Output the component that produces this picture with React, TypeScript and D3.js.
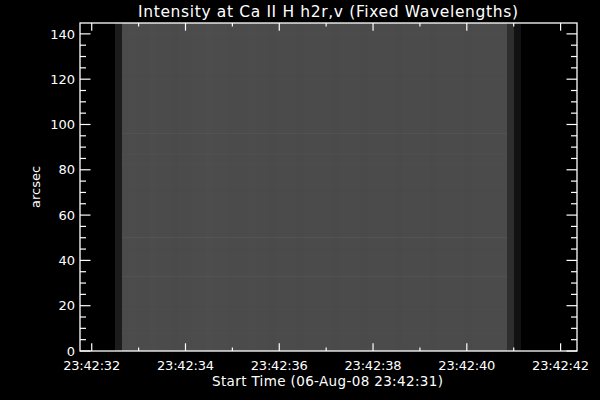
import React from "react";
import * as d3 from "d3";

// ---- data ----
const title = "Intensity at Ca II H h2r,v (Fixed Wavelengths)";
const xTitle = "Start Time (06-Aug-08 23:42:31)";
const yTitle = "arcsec";
const xTickSeconds = [1, 3, 5, 7, 9, 11];
const xTickLabels = ["23:42:32", "23:42:34", "23:42:36", "23:42:38", "23:42:40", "23:42:42"];
const yTickValues = [0, 20, 40, 60, 80, 100, 120, 140];
const xDomain = [0.75, 11.35]; // seconds after 23:42:31
const yDomain = [0, 144.8];
const colStart = 1.5;
const colStep = 0.1494;
// mean grey level per exposure column (0-255)
const colIntensity = [
  28, 75, 76, 75, 75, 76, 75, 75, 74, 75, 75, 76, 76, 77, 76, 76, 75, 75, 75, 76,
  75, 75, 74, 75, 75, 75, 74, 75, 75, 75, 75, 74, 75, 75, 75, 74, 75, 75, 75, 75,
  74, 75, 75, 75, 75, 74, 75, 75, 75, 75, 74, 75, 75, 75, 75, 75, 46, 18,
];
// slit positions (arcsec) with slightly brighter / darker rows
const rowPos = [140.5, 122, 96.2, 87, 83, 71, 50.3, 45, 33.3, 20, 8];
const rowDelta = [2, -2, 7, 3, 2, -2, 8, -2, 7, -2, 2];

export default function App() {
  const W = 600, H = 400;
  const x = d3.scaleLinear().domain(xDomain).range([80, 577]);
  const y = d3.scaleLinear().domain(yDomain).range([351, 23]);
  const grey = (v: number) => d3.rgb(v, v, v).toString();
  const font = "'DejaVu Sans', sans-serif";
  const yMinor = d3.range(0, 145, 5).filter((v) => v % 20 !== 0);
  const xMinor = d3.range(1, 12, 1).filter((s) => (s - 1) % 2 !== 0);
  const [x0, x1] = x.range();
  const [y0, y1] = y.range();
  const colX = (i: number) => Math.round(x(colStart + i * colStep));
  return (
    <svg width={W} height={H} style={{ position: "absolute", left: 0, top: 0, background: "#000" }}>
      <rect x={0} y={0} width={W} height={H} fill="#000" />
      <g shapeRendering="crispEdges">
        {/* image columns */}
        {colIntensity.map((v, i) => (
          <rect key={"c" + i} x={colX(i)} y={y1} width={colX(i + 1) - colX(i)} height={y0 - y1} fill={grey(v)} />
        ))}
        {/* row features */}
        {colIntensity.map((v, i) =>
          v > 60
            ? rowPos.map((p, j) => (
                <rect key={"r" + i + "-" + j} x={colX(i)} y={Math.round(y(p))} width={colX(i + 1) - colX(i)} height={1} fill={grey(v + rowDelta[j])} />
              ))
            : null
        )}
      </g>
      {/* frame */}
      <rect x={x0} y={y1} width={x1 - x0} height={y0 - y1} fill="none" stroke="#fff" strokeWidth={1.3} />
      {/* y ticks */}
      {yTickValues.map((v) => (
        <g key={"yt" + v}>
          <line x1={x0} x2={x0 + 10.5} y1={y(v)} y2={y(v)} stroke="#fff" strokeWidth={1.2} />
          <line x1={x1} x2={x1 - 10.5} y1={y(v)} y2={y(v)} stroke="#fff" strokeWidth={1.2} />
          <text x={75} y={y(v)} dy="0.36em" textAnchor="end" fill="#fff" fontFamily={font} fontSize={13}>
            {v}
          </text>
        </g>
      ))}
      {yMinor.map((v) => (
        <g key={"ym" + v}>
          <line x1={x0} x2={x0 + 6} y1={y(v)} y2={y(v)} stroke="#fff" strokeWidth={1.2} />
          <line x1={x1} x2={x1 - 6} y1={y(v)} y2={y(v)} stroke="#fff" strokeWidth={1.2} />
        </g>
      ))}
      {/* x ticks */}
      {xTickSeconds.map((s, i) => (
        <g key={"xt" + s}>
          <line x1={x(s)} x2={x(s)} y1={y0} y2={y0 - 7.7} stroke="#fff" strokeWidth={1.2} />
          <line x1={x(s)} x2={x(s)} y1={y1} y2={y1 + 7.7} stroke="#fff" strokeWidth={1.2} />
          <text x={x(s)} y={370} textAnchor="middle" fill="#fff" fontFamily={font} fontSize={13} textLength={57} lengthAdjust="spacing">
            {xTickLabels[i]}
          </text>
        </g>
      ))}
      {xMinor.map((s) => (
        <g key={"xm" + s}>
          <line x1={x(s)} x2={x(s)} y1={y0} y2={y0 - 3.5} stroke="#fff" strokeWidth={1.2} />
          <line x1={x(s)} x2={x(s)} y1={y1} y2={y1 + 3.5} stroke="#fff" strokeWidth={1.2} />
        </g>
      ))}
      <text x={328} y={17} textAnchor="middle" fill="#fff" fontFamily={font} fontSize={15.5} textLength={380} lengthAdjust="spacing">
        {title}
      </text>
      <text x={327.5} y={386} textAnchor="middle" fill="#fff" fontFamily={font} fontSize={13.5} textLength={231} lengthAdjust="spacing">
        {xTitle}
      </text>
      <text transform={`translate(40,${(y0 + y1) / 2}) rotate(-90)`} textAnchor="middle" fill="#fff" fontFamily={font} fontSize={13}>
        {yTitle}
      </text>
    </svg>
  );
}
